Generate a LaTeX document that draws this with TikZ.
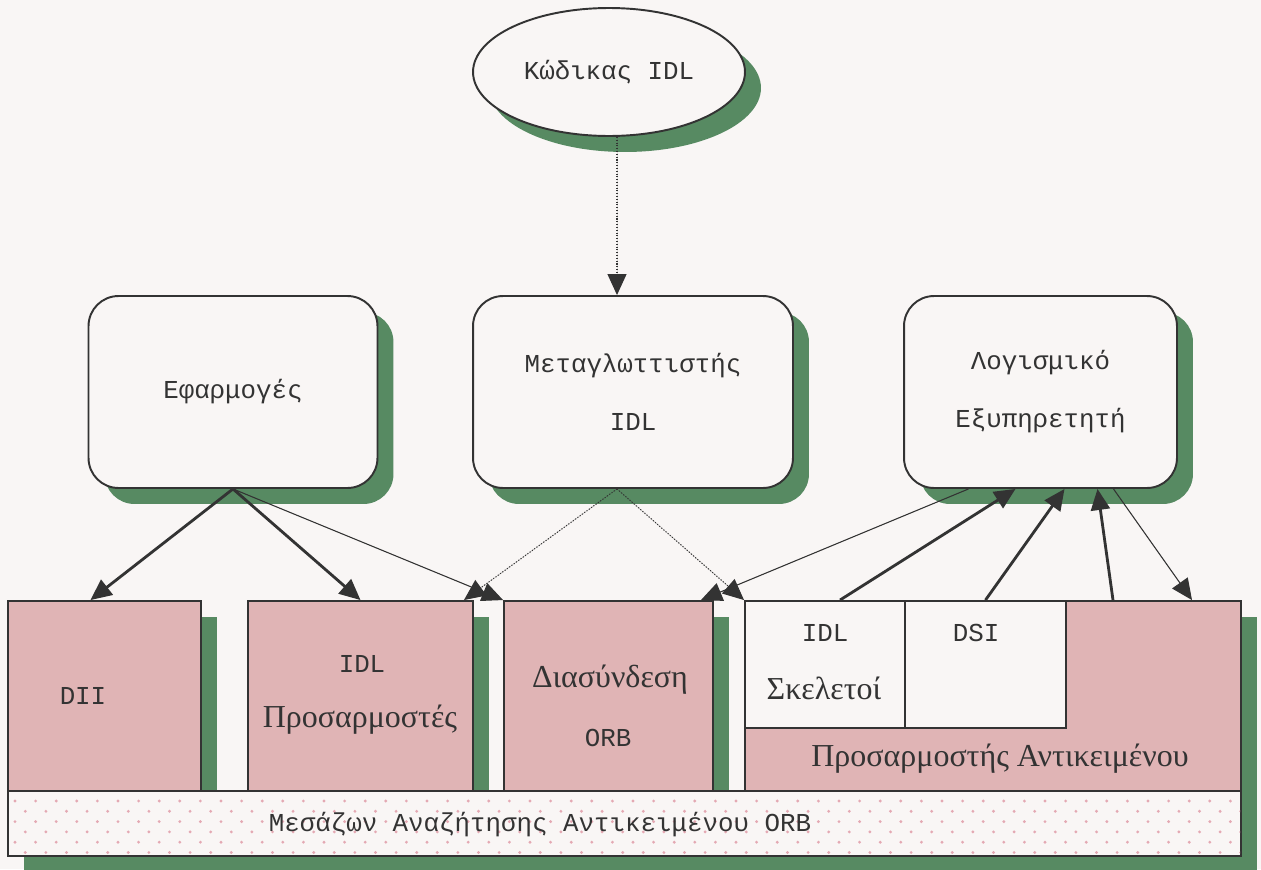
\documentclass[tikz,border=0pt]{standalone}
\usepackage{fontspec}
\setmainfont{Liberation Serif}
\setmonofont{Liberation Mono}
\usetikzlibrary{arrows.meta,shadows,calc,shapes.geometric}

\definecolor{paper}{HTML}{F9F6F5}
\definecolor{shadegreen}{HTML}{578A62}
\definecolor{boxpink}{HTML}{E0B4B5}
\definecolor{ink}{HTML}{333333}
\definecolor{dotpink}{HTML}{E4A9B3}

\newcommand{\monotxt}{\ttfamily\fontsize{14.7}{33}\selectfont}
\newcommand{\seriftxt}{\rmfamily\fontsize{18.2}{33}\selectfont}

\tikzset{
  greenshadow/.style={drop shadow={fill=shadegreen, opacity=1,
      shadow xshift=0.32cm, shadow yshift=-0.32cm}},
  softbox/.style={draw=ink, line width=1.1pt, fill=paper, rounded corners=0.6cm,
      minimum height=3.84cm, align=center, text=ink, font=\monotxt, greenshadow},
  pinkbox/.style={draw=ink, line width=1.1pt, fill=boxpink, minimum height=3.82cm,
      inner sep=0pt, greenshadow},
  whitebox/.style={draw=ink, line width=1.1pt, fill=paper, inner sep=0pt,
      minimum width=3.2cm, minimum height=2.54cm},
  monolabel/.style={inner sep=0pt, text=ink, font=\monotxt},
  seriflabel/.style={inner sep=0pt, text=ink, font=\seriftxt},
  tip/.style={-{Triangle[length=0.42cm,width=0.38cm]}},
  heavyarrow/.style={tip, draw=ink, fill=ink, line width=1.6pt},
  lightarrow/.style={tip, draw=ink, fill=ink, line width=0.6pt},
  dotarrow/.style={tip, draw=ink, fill=ink, line width=0.6pt, densely dotted}
}

\begin{document}
\begin{tikzpicture}[x=0.02cm, y=-0.02cm]

% background
\fill[paper] (0,0) rectangle (1261,869);
\useasboundingbox (0,0) rectangle (1261,869);

%% top: source code
\node[ellipse, draw=ink, line width=1.1pt, fill=paper, minimum width=5.44cm,
      minimum height=2.56cm, inner sep=0pt, text=ink, font=\monotxt, greenshadow]
      (code) at (609,72) {Κώδικας IDL};

%% middle row
\node[softbox, minimum width=5.78cm] (apps) at (233,392) {Εφαρμογές};
\node[softbox, minimum width=6.4cm] (compiler) at (633,392) {Μεταγλωττιστής\\IDL};
\node[softbox, minimum width=5.46cm] (server) at (1040.5,392) {Λογισμικό\\Εξυπηρετητή};

%% bottom row
\node[pinkbox, minimum width=3.86cm] (dii) at (104.5,696.5) {};
\node[pinkbox, minimum width=4.5cm] (stubs) at (360.5,696.5) {};
\node[pinkbox, minimum width=4.18cm] (iface) at (608.5,696.5) {};
\node[pinkbox, minimum width=9.92cm] (objadapter) at (993,696.5) {};
\node[whitebox] (skel) at (825,664.5) {};
\node[whitebox, minimum width=3.22cm] (dsi) at (985.5,664.5) {};

\node[monolabel] (diitext) at (83,696) {DII};
\node[monolabel] (stubsidl) at (362,664) {IDL};
\node[seriflabel] (stubstext) at (360,720) {Προσαρμοστές};
\node[seriflabel] (ifacetext) at (610,680) {Διασύνδεση};
\node[monolabel] (ifaceorb) at (608,738) {ORB};
\node[monolabel] (skelidl) at (825,633) {IDL};
\node[seriflabel] (skeltext) at (824,688) {Σκελετοί};
\node[monolabel] (dsitext) at (976,633) {DSI};
\node[seriflabel] (adaptertext) at (1000,759) {Προσαρμοστής Αντικειμένου};

%% ORB bar
\node[draw=ink, line width=1.1pt, fill=paper, minimum width=24.66cm,
      minimum height=1.3cm, inner sep=0pt, greenshadow] (orb) at (624.5,823.5) {};
\begin{scope}
\clip ([xshift=1pt,yshift=1pt]orb.south west) rectangle ([xshift=-1pt,yshift=-1pt]orb.north east);
\foreach \row in {0,...,5}{
  \pgfmathsetmacro{\ypos}{801+10.3*\row}
  \pgfmathsetmacro{\xoff}{15+10.3*mod(\row,2)}
  \foreach \col in {0,...,60}{
    \fill[dotpink] (\xoff+20.6*\col,\ypos) circle (0.9pt);
  }
}
\end{scope}
\node[monolabel] (orbtext) at (540,825) {Μεσάζων Αναζήτησης Αντικειμένου ORB};

%% connectors
\draw[dotarrow] ($(code.south)+(8,0)$) -- ($(compiler.north)+(-16,0)$);

\draw[heavyarrow] (apps.south) -- ($(dii.north)+(-14,0)$);
\draw[heavyarrow] (apps.south) -- (stubs.north);
\draw[lightarrow] (apps.south) -- (iface.north west);

\draw[dotarrow] ($(compiler.south)+(-16,0)$) -- ($(stubs.north east)+(-10,0)$);
\draw[dotarrow] ($(compiler.south)+(-16,0)$) -- (skel.north west);

\draw[lightarrow] ($(server.south)+(-72,0)$) -- ($(iface.north east)+(-13,0)$);
\draw[heavyarrow] ($(skel.north)+(15,0)$) -- ($(server.south)+(-25,0)$);
\draw[heavyarrow] (dsi.north) -- ($(server.south)+(24,0)$);
\draw[heavyarrow] ($(objadapter.north)+(120,0)$) -- ($(server.south)+(57,0)$);
\draw[lightarrow] ($(server.south)+(73,0)$) -- ($(objadapter.north)+(199,0)$);

\end{tikzpicture}
\end{document}
